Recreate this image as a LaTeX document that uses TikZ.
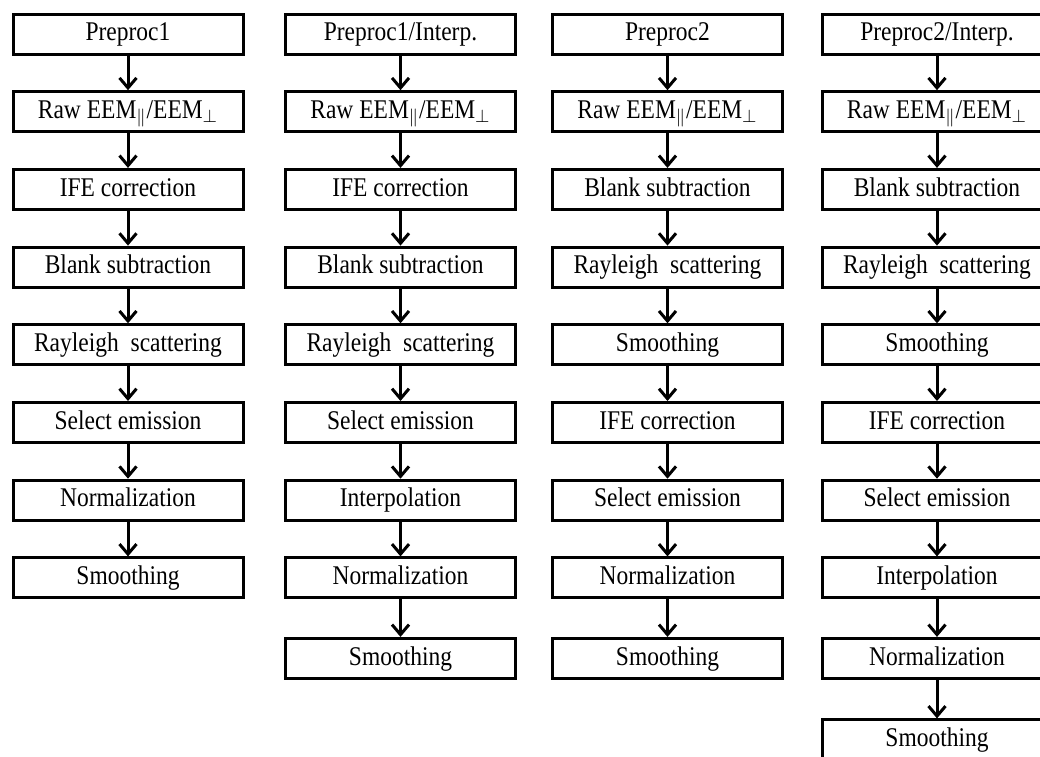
\documentclass[tikz,border=0pt]{standalone}
\usepackage{fontspec}
\setmainfont{Liberation Serif}[FakeStretch=0.87]
\usetikzlibrary{arrows.meta,positioning}
\tikzset{%
	process/.style = {draw, rectangle, line width=1.5pt, minimum width=115pt, minimum height=20pt, inner sep=0pt, text height=0.662em, text depth=0pt, text centered, font=\fontsize{13.5}{15}\selectfont},
	arrow/.style   = {line width=1.5pt, -{Straight Barb[length=5pt,width=8.5pt]}},
}

\begin{document}
\begin{tikzpicture}[x=0.5pt,y=-0.5pt,node distance=38.85pt]
	\useasboundingbox (0,0) rectangle (1040,756);
	% Preproc1
	\node [process] (c1n1) at (128,34) {Preproc1};
	\node [process] (c1n2) [below of=c1n1] {Raw EEM$_{\parallel}$/EEM$_{\perp}$};
	\node [process] (c1n3) [below of=c1n2] {IFE correction};
	\node [process] (c1n4) [below of=c1n3] {Blank subtraction};
	\node [process] (c1n5) [below of=c1n4] {Rayleigh\ \ scattering};
	\node [process] (c1n6) [below of=c1n5] {Select emission};
	\node [process] (c1n7) [below of=c1n6] {Normalization};
	\node [process] (c1n8) [below of=c1n7] {Smoothing};
	% Preproc1/Interp.
	\node [process] (c2n1) at (400.5,34) {Preproc1/Interp.};
	\node [process] (c2n2) [below of=c2n1] {Raw EEM$_{\parallel}$/EEM$_{\perp}$};
	\node [process] (c2n3) [below of=c2n2] {IFE correction};
	\node [process] (c2n4) [below of=c2n3] {Blank subtraction};
	\node [process] (c2n5) [below of=c2n4] {Rayleigh\ \ scattering};
	\node [process] (c2n6) [below of=c2n5] {Select emission};
	\node [process] (c2n7) [below of=c2n6] {Interpolation};
	\node [process] (c2n8) [below of=c2n7] {Normalization};
	\node [process] (c2n9) [below of=c2n8,node distance=40.25pt] {Smoothing};
	% Preproc2
	\node [process] (c3n1) at (667.5,34) {Preproc2};
	\node [process] (c3n2) [below of=c3n1] {Raw EEM$_{\parallel}$/EEM$_{\perp}$};
	\node [process] (c3n3) [below of=c3n2] {Blank subtraction};
	\node [process] (c3n4) [below of=c3n3] {Rayleigh\ \ scattering};
	\node [process] (c3n5) [below of=c3n4] {Smoothing};
	\node [process] (c3n6) [below of=c3n5] {IFE correction};
	\node [process] (c3n7) [below of=c3n6] {Select emission};
	\node [process] (c3n8) [below of=c3n7] {Normalization};
	\node [process] (c3n9) [below of=c3n8,node distance=40.25pt] {Smoothing};
	% Preproc2/Interp.
	\node [process] (c4n1) at (937,34) {Preproc2/Interp.};
	\node [process] (c4n2) [below of=c4n1] {Raw EEM$_{\parallel}$/EEM$_{\perp}$};
	\node [process] (c4n3) [below of=c4n2] {Blank subtraction};
	\node [process] (c4n4) [below of=c4n3] {Rayleigh\ \ scattering};
	\node [process] (c4n5) [below of=c4n4] {Smoothing};
	\node [process] (c4n6) [below of=c4n5] {IFE correction};
	\node [process] (c4n7) [below of=c4n6] {Select emission};
	\node [process] (c4n8) [below of=c4n7] {Interpolation};
	\node [process] (c4n9) [below of=c4n8,node distance=40.25pt] {Normalization};
	\node [process] (c4n10) [below of=c4n9,node distance=40.75pt] {Smoothing};
	
	\foreach \n [evaluate=\n as \m using int(\n+1)] in {1,...,7}
		\draw[arrow] (c1n\n) -- (c1n\m);
	\foreach \n [evaluate=\n as \m using int(\n+1)] in {1,...,8}
		\draw[arrow] (c2n\n) -- (c2n\m);
	\foreach \n [evaluate=\n as \m using int(\n+1)] in {1,...,8}
		\draw[arrow] (c3n\n) -- (c3n\m);
	\foreach \n [evaluate=\n as \m using int(\n+1)] in {1,...,9}
		\draw[arrow] (c4n\n) -- (c4n\m);
\end{tikzpicture}
\end{document}
